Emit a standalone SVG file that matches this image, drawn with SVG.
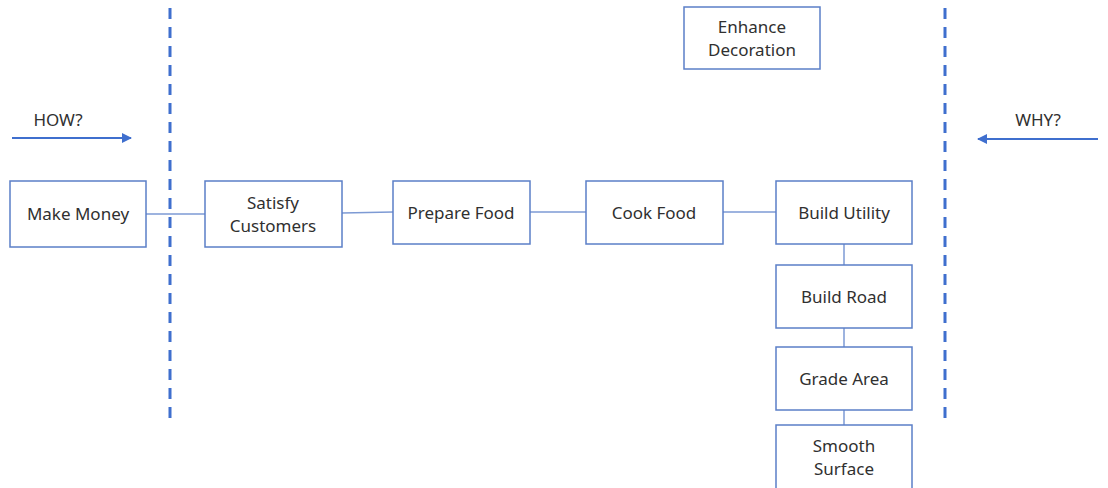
<svg xmlns="http://www.w3.org/2000/svg" width="1108" height="488" viewBox="0 0 1108 488">
<defs>
<style>
.box{fill:#fff;stroke:#5b7fc7;stroke-width:1.5}
.lbl{font-family:"Noto Sans","Open Sans",sans-serif;font-size:17px;fill:#303030;text-anchor:middle}
.conn{stroke:#7d9ad4;stroke-width:1.5;fill:none}
.dash{stroke:#3f6fce;stroke-width:3;stroke-dasharray:11 8;fill:none}
.arr{stroke:#3f6fce;stroke-width:2;fill:none}
</style>
<marker id="ah" viewBox="0 0 10 10" refX="9" refY="5" markerWidth="5" markerHeight="5" orient="auto" markerUnits="strokeWidth">
<path d="M0,0 L10,5 L0,10 z" fill="#3f6fce"/>
</marker>
</defs>
<rect width="1108" height="488" fill="#fff"/>
<g id="guides">
<line class="dash" x1="170" y1="8" x2="170" y2="422"/>
<line class="dash" x1="945" y1="8" x2="945" y2="422"/>
<line class="arr" x1="12" y1="138" x2="131" y2="138" marker-end="url(#ah)"/>
<line class="arr" x1="1098" y1="139" x2="978" y2="139" marker-end="url(#ah)"/>
<text class="lbl" x="58" y="126">HOW?</text>
<text class="lbl" x="1038" y="126">WHY?</text>
</g>
<g id="connectors">
<line class="conn" x1="146" y1="214" x2="205" y2="214"/>
<line class="conn" x1="342" y1="213" x2="393" y2="212"/>
<line class="conn" x1="530" y1="212" x2="586" y2="212"/>
<line class="conn" x1="723" y1="212" x2="776" y2="212"/>
<line class="conn" x1="844" y1="244" x2="844" y2="265"/>
<line class="conn" x1="844" y1="328" x2="844" y2="347"/>
<line class="conn" x1="844" y1="410" x2="844" y2="425"/>
</g>
<g id="make-money"><rect class="box" x="10" y="181" width="136" height="66"/><text class="lbl" x="78" y="220">Make Money</text></g>
<g id="satisfy-customers"><rect class="box" x="205" y="181" width="137" height="66"/><text class="lbl" x="273" y="209">Satisfy</text><text class="lbl" x="273" y="232">Customers</text></g>
<g id="prepare-food"><rect class="box" x="393" y="181" width="137" height="63"/><text class="lbl" x="461" y="219">Prepare Food</text></g>
<g id="cook-food"><rect class="box" x="586" y="181" width="137" height="63"/><text class="lbl" x="654" y="219">Cook Food</text></g>
<g id="build-utility"><rect class="box" x="776" y="181" width="136" height="63"/><text class="lbl" x="844" y="219">Build Utility</text></g>
<g id="build-road"><rect class="box" x="776" y="265" width="136" height="63"/><text class="lbl" x="844" y="303">Build Road</text></g>
<g id="grade-area"><rect class="box" x="776" y="347" width="136" height="63"/><text class="lbl" x="844" y="385">Grade Area</text></g>
<g id="smooth-surface"><rect class="box" x="776" y="425" width="136" height="70"/><text class="lbl" x="844" y="452">Smooth</text><text class="lbl" x="844" y="475">Surface</text></g>
<g id="enhance-decoration"><rect class="box" x="684" y="7" width="136" height="62"/><text class="lbl" x="752" y="33">Enhance</text><text class="lbl" x="752" y="56">Decoration</text></g>
</svg>
